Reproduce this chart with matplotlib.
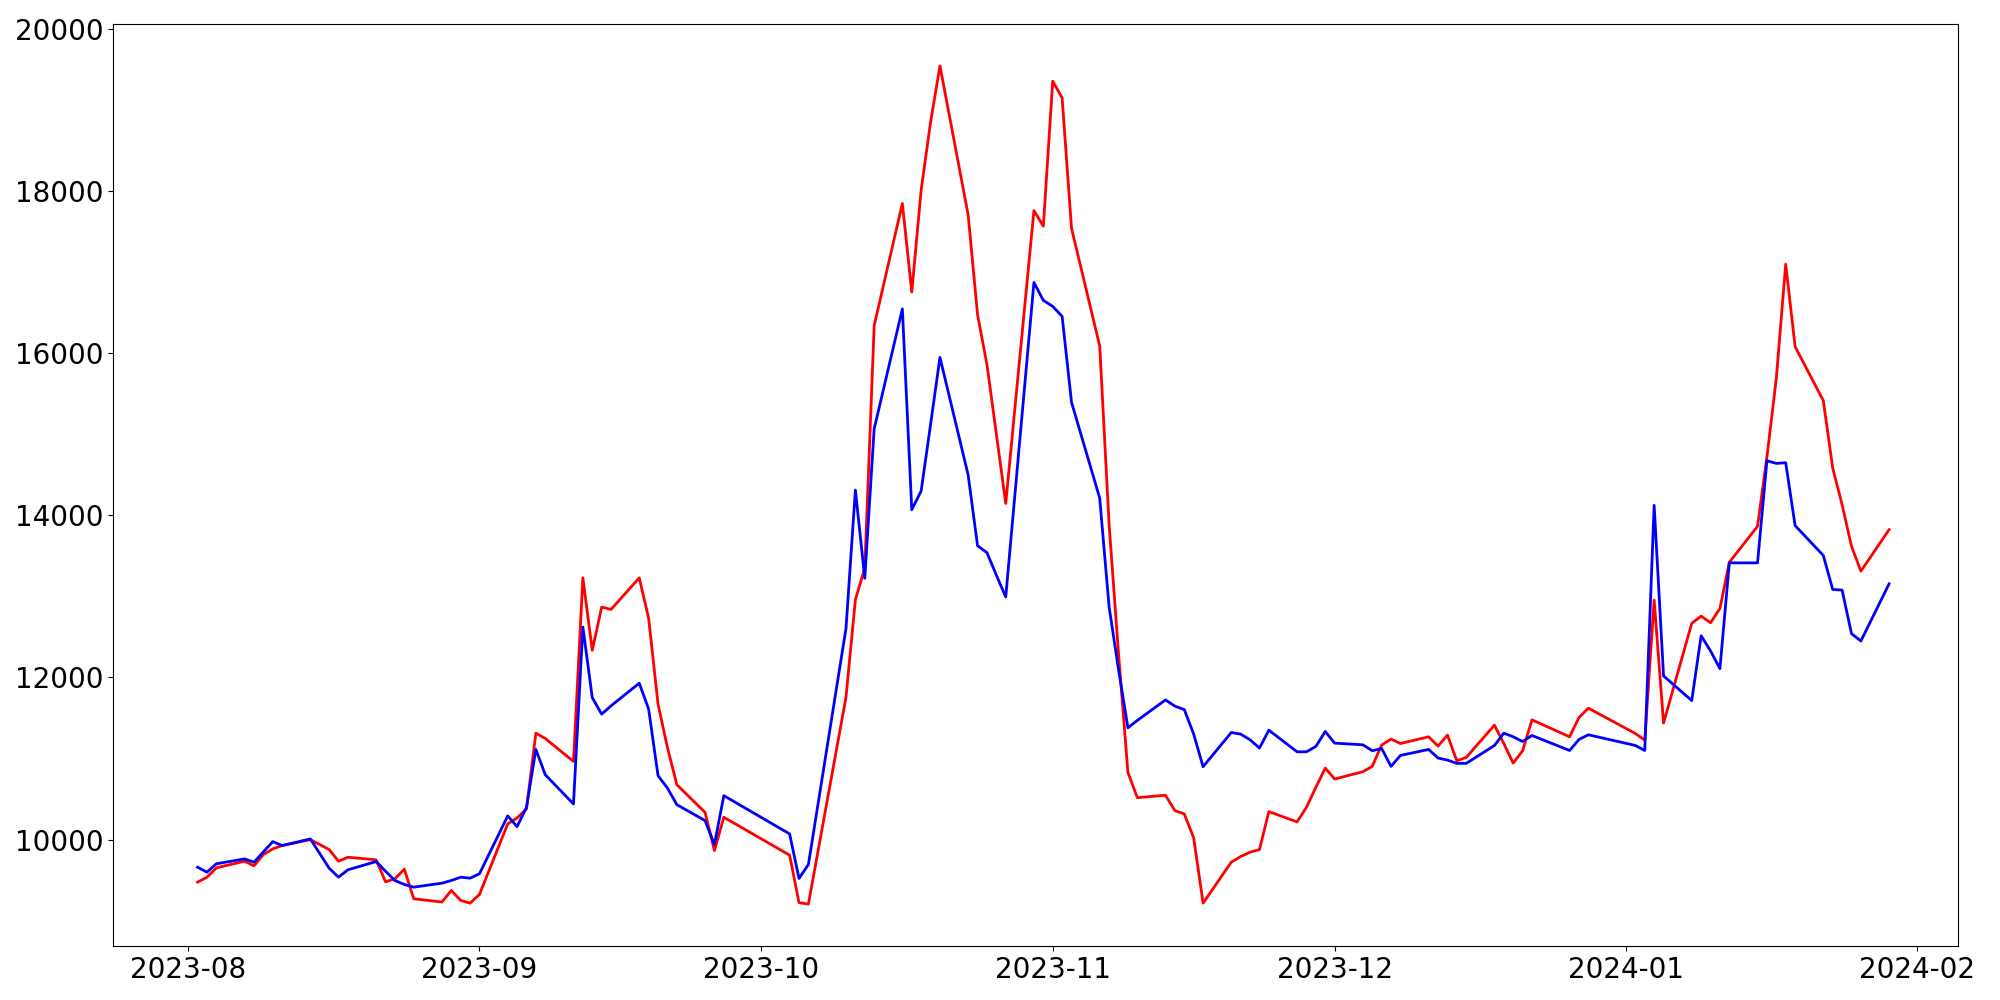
import pandas as pd
import matplotlib
matplotlib.use("Agg")
import matplotlib.pyplot as plt

# trading dates (irregular, gaps as in the source)
aug = [2, 3, 4, 7, 8, 9, 10, 11, 14, 16, 17, 18, 21, 22, 23, 24, 25, 28, 29, 30, 31]
sep = [1, 4, 5, 6, 7, 8, 11, 12, 13, 14, 15, 18, 19, 20, 21, 22, 25, 26, 27]
oct_ = [4, 5, 6, 10, 11, 12, 13, 16, 17, 18, 19, 20, 23, 24, 25, 26, 27, 30, 31]
nov = [1, 2, 3, 6, 7, 8, 9, 10, 13, 14, 15, 16, 17, 20, 21, 22, 23, 24, 27, 28, 29, 30]
dec = [1, 4, 5, 6, 7, 8, 11, 12, 13, 14, 15, 18, 19, 20, 21, 22, 26, 27, 28]
jan = [2, 3, 4, 5, 8, 9, 10, 11, 12, 15, 16, 17, 18, 19, 22, 23, 24, 25, 26, 29]

blue_vals = [
    # Aug
    9659, 9598, 9701, 9762, 9721, 9848, 9975, 9926, 10008, 9647, 9536, 9627, 9729, 9610, 9495,
    9446, 9413, 9462, 9495, 9536, 9524,
    # Sep
    9578, 10292, 10160, 10398, 11112, 10800, 10439, 12622, 11752, 11547, 11650, 11929, 11609,
    10788, 10636, 10431, 10234, 9938, 10542,
    # Oct
    10070, 9520, 9692, 12604, 14312, 13223, 15068, 16547, 14070, 14301, 15120, 15949, 14498,
    13625, 13540, 13263, 12993, 16873, 16653,
    # Nov
    16578, 16455, 15395, 14212, 12870, 12100, 11379, 11470, 11723, 11646, 11604, 11301, 10899,
    11321, 11301, 11231, 11129, 11350, 11083, 11083, 11149, 11333,
    # Dec
    11190, 11169, 11096, 11124, 10903, 11038, 11112, 11006, 10981, 10940, 10940, 11160, 11313,
    11268, 11210, 11284, 11099, 11235, 11293,
    # Jan
    11161, 11099, 14124, 12019, 11715, 12515, 12327, 12109, 13414, 13414, 14674, 14641, 14649,
    13874, 13505, 13086, 13078, 12540, 12450, 13155,
]

red_vals = [
    # Aug
    9475, 9536, 9651, 9733, 9676, 9815, 9885, 9926, 10000, 9877, 9733, 9782, 9750, 9479, 9516,
    9635, 9270, 9229, 9372, 9249, 9216,
    # Sep
    9323, 10193, 10267, 10377, 11313, 11247, 10964, 13229, 12335, 12868, 12840, 13229, 12729,
    11670, 11136, 10677, 10336, 9865, 10275,
    # Oct
    9808, 9222, 9204, 11755, 12959, 13349, 16341, 17849, 16755, 18015, 18851, 19545, 17707,
    16476, 15861, 15004, 14147, 17760, 17567,
    # Nov
    19357, 19150, 17541, 16090, 13885, 12300, 10830, 10517, 10547, 10357, 10316, 10021, 9216,
    9721, 9791, 9844, 9877, 10345, 10218, 10398, 10644, 10882,
    # Dec
    10747, 10837, 10903, 11166, 11240, 11185, 11268, 11153, 11289, 10972, 11013, 11412, 11185,
    10944, 11096, 11477, 11268, 11506, 11621,
    # Jan
    11309, 11227, 12954, 11437, 12668, 12757, 12675, 12852, 13422, 13865, 14720, 15691, 17099,
    16081, 15416, 14583, 14132, 13619, 13311, 13824,
]

date_str = ([f"2023-08-{d:02d}" for d in aug] + [f"2023-09-{d:02d}" for d in sep]
            + [f"2023-10-{d:02d}" for d in oct_] + [f"2023-11-{d:02d}" for d in nov]
            + [f"2023-12-{d:02d}" for d in dec] + [f"2024-01-{d:02d}" for d in jan])
dates = pd.to_datetime(date_str)

fig, ax = plt.subplots(figsize=(20, 10), dpi=100)
ax.plot(dates, red_vals, color="red", linewidth=2)
ax.plot(dates, blue_vals, color="blue", linewidth=2)
ax.set_xlim(pd.Timestamp("2023-07-24"), pd.Timestamp("2024-02-05 08:00"))
ax.tick_params(labelsize=20)
fig.subplots_adjust(left=0.0565, right=0.979, top=0.976, bottom=0.054)
fig.savefig("out.png")
